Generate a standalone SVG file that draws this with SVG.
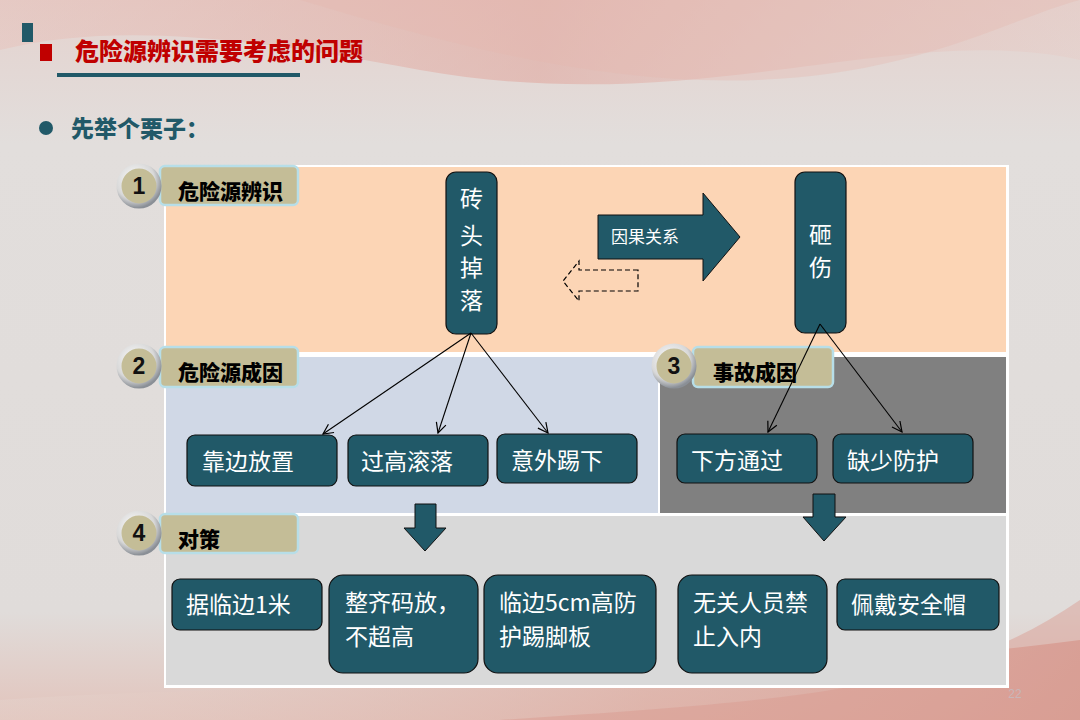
<svg xmlns="http://www.w3.org/2000/svg" width="1080" height="720" viewBox="0 0 1080 720">
<defs>
<linearGradient id="bg" x1="0" y1="0" x2="0" y2="1">
<stop offset="0" stop-color="#E4D2CE"/>
<stop offset="0.2" stop-color="#E2DEDC"/>
<stop offset="0.85" stop-color="#E0DCDA"/>
<stop offset="1" stop-color="#E2C4BC"/>
</linearGradient>
<linearGradient id="swTop" x1="0" y1="0" x2="1" y2="0">
<stop offset="0" stop-color="#E9B5AC" stop-opacity="0.3"/>
<stop offset="0.5" stop-color="#E0A59C" stop-opacity="0.55"/>
<stop offset="1" stop-color="#E8C8C2" stop-opacity="0.3"/>
</linearGradient>
<linearGradient id="swBot" x1="0" y1="0" x2="1" y2="0">
<stop offset="0" stop-color="#E6D8D2" stop-opacity="0.3"/>
<stop offset="0.6" stop-color="#DDA99E" stop-opacity="0.6"/>
<stop offset="1" stop-color="#D69A90" stop-opacity="0.8"/>
</linearGradient>
<radialGradient id="ring" cx="0.4" cy="0.35" r="0.7">
<stop offset="0" stop-color="#FFFFFF"/>
<stop offset="0.7" stop-color="#D8D8D8"/>
<stop offset="1" stop-color="#8A8F96"/>
</radialGradient>
<marker id="arr" viewBox="0 0 12 12" refX="11" refY="6" markerWidth="12" markerHeight="12" markerUnits="userSpaceOnUse" orient="auto">
<path d="M1,1 L11,6 L1,11" fill="none" stroke="#000" stroke-width="1.2"/>
</marker>
<style>
.tab{fill:#C4BD97;stroke:#B7DEE8;stroke-width:2.5}
.tabt{font-family:"Noto Sans CJK SC",sans-serif;font-weight:900;font-size:21px;fill:#000}
.num{font-family:"Liberation Sans",Arial,sans-serif;font-weight:bold;font-size:23px;fill:#111}
.badge{fill:#C4BD97;stroke:url(#ring);stroke-width:5}
.box{fill:#215968;stroke:#111;stroke-width:1.2}
.bt{font-family:"Noto Sans CJK SC",sans-serif;font-size:23px;fill:#FFFFFF}
.conn line{stroke:#000;stroke-width:1.1;marker-end:url(#arr)}
</style>
</defs>

<!-- background -->
<rect width="1080" height="720" fill="url(#bg)"/>
<path d="M0,0 L1080,0 L1080,60 C900,20 700,120 420,70 C260,40 120,20 0,50 Z" fill="url(#swTop)"/>
<path d="M300,0 C500,60 700,110 900,60 C980,40 1040,10 1080,0 Z" fill="#E4B8B0" opacity="0.35"/>
<path d="M0,700 C300,680 700,690 1080,640 L1080,720 L0,720 Z" fill="url(#swBot)"/>
<path d="M500,720 C800,700 950,690 1080,600 L1080,720 Z" fill="#D9988E" opacity="0.45"/>

<!-- title -->
<g id="title">
<rect x="22" y="23" width="11" height="19" fill="#215968"/>
<rect x="40" y="44" width="12" height="17" fill="#C00000"/>
<text x="75" y="60" font-family="Noto Sans CJK SC,sans-serif" font-weight="900" font-size="24" fill="#C00000">危险源辨识需要考虑的问题</text>
<rect x="57" y="73" width="243" height="4" fill="#215968"/>
</g>
<g id="bullet">
<circle cx="46" cy="128" r="7" fill="#215968"/>
<text x="71" y="137" font-family="Noto Sans CJK SC,sans-serif" font-weight="900" font-size="23" fill="#215968">先举个栗子：</text>
</g>

<!-- panel -->
<g id="panel">
<rect x="164" y="165" width="845" height="523" fill="#FFFFFF"/>
<rect x="166" y="167" width="840" height="185" fill="#FCD5B5"/>
<rect x="166" y="357" width="492" height="156" fill="#D0D8E6"/>
<rect x="660" y="357" width="346" height="156" fill="#808080"/>
<rect x="166" y="516" width="840" height="169" fill="#D9D9D9"/>
</g>

<!-- section labels -->
<g id="label1">
<rect class="tab" x="160" y="166" width="138" height="39" rx="5"/>
<circle class="badge" cx="139" cy="186" r="20"/>
<text class="num" x="139" y="194" text-anchor="middle">1</text>
<text class="tabt" x="178" y="199">危险源辨识</text>
</g>
<g id="label2">
<rect class="tab" x="160" y="347" width="138" height="40" rx="5"/>
<circle class="badge" cx="139" cy="366" r="20"/>
<text class="num" x="139" y="374" text-anchor="middle">2</text>
<text class="tabt" x="178" y="380">危险源成因</text>
</g>
<g id="label3">
<rect class="tab" x="693" y="347" width="140" height="40" rx="5"/>
<circle class="badge" cx="674" cy="366" r="20"/>
<text class="num" x="674" y="374" text-anchor="middle">3</text>
<text class="tabt" x="713" y="380">事故成因</text>
</g>
<g id="label4">
<rect class="tab" x="160" y="514" width="138" height="39" rx="5"/>
<circle class="badge" cx="139" cy="533" r="20"/>
<text class="num" x="139" y="541" text-anchor="middle">4</text>
<text class="tabt" x="178" y="547">对策</text>
</g>

<!-- top nodes -->
<g id="brick">
<rect class="box" x="446" y="172" width="51" height="162" rx="10"/>
<text class="bt" x="471.5" text-anchor="middle" font-size="24"><tspan x="471.5" y="207">砖</tspan><tspan x="471.5" y="244">头</tspan><tspan x="471.5" y="276">掉</tspan><tspan x="471.5" y="309">落</tspan></text>
</g>
<g id="injury">
<rect class="box" x="795" y="172" width="51" height="161" rx="10"/>
<text class="bt" x="820.5" text-anchor="middle" font-size="24"><tspan x="820.5" y="243">砸</tspan><tspan x="820.5" y="276">伤</tspan></text>
</g>
<g id="causal">
<path d="M598,215 L703,215 L703,193 L740,237 L703,281 L703,259 L598,259 Z" fill="#215968" stroke="#111" stroke-width="1"/>
<text x="611" y="243" font-family="Noto Sans CJK SC,sans-serif" font-size="17" fill="#FFFFFF">因果关系</text>
</g>
<g id="reverse">
<path d="M638,270 L579,270 L579,261 L563,281 L579,301 L579,291 L638,291 Z" fill="none" stroke="#000" stroke-width="1.2" stroke-dasharray="5,3"/>
</g>

<!-- row 2 -->
<g id="n-kaobian"><rect class="box" x="187" y="435" width="150" height="51" rx="8"/><text class="bt" x="202" y="470">靠边放置</text></g>
<g id="n-guogao"><rect class="box" x="348" y="435" width="140" height="51" rx="8"/><text class="bt" x="361" y="470">过高滚落</text></g>
<g id="n-yiwai"><rect class="box" x="497" y="434" width="140" height="49" rx="8"/><text class="bt" x="511" y="469">意外踢下</text></g>
<g id="n-xiafang"><rect class="box" x="677" y="434" width="140" height="49" rx="8"/><text class="bt" x="691" y="469">下方通过</text></g>
<g id="n-queshao"><rect class="box" x="833" y="434" width="140" height="49" rx="8"/><text class="bt" x="847" y="469">缺少防护</text></g>

<!-- down arrows -->
<g id="down1"><path d="M415,504 L436,504 L436,528 L446,528 L425,551 L404,528 L415,528 Z" fill="#215968" stroke="#111" stroke-width="1"/></g>
<g id="down2"><path d="M813,494 L835,494 L835,517 L846,517 L824,541 L803,517 L813,517 Z" fill="#215968" stroke="#111" stroke-width="1"/></g>

<!-- row 3 -->
<g id="n-julin"><rect class="box" x="172" y="579" width="150" height="51" rx="8"/><text class="bt" x="186" y="613" font-size="22">据临边1米</text></g>
<g id="n-zhengqi"><rect class="box" x="329" y="575" width="149" height="98" rx="14"/><text class="bt" font-size="22"><tspan x="345" y="611">整齐码放，</tspan><tspan x="345" y="645">不超高</tspan></text></g>
<g id="n-linbian"><rect class="box" x="484" y="575" width="172" height="98" rx="14"/><text class="bt" font-size="22"><tspan x="499" y="611">临边5cm高防</tspan><tspan x="499" y="645">护踢脚板</tspan></text></g>
<g id="n-wuguan"><rect class="box" x="678" y="575" width="149" height="98" rx="14"/><text class="bt" font-size="22"><tspan x="693" y="611">无关人员禁</tspan><tspan x="693" y="645">止入内</tspan></text></g>
<g id="n-peidai"><rect class="box" x="837" y="579" width="162" height="51" rx="8"/><text class="bt" x="851" y="613" font-size="22">佩戴安全帽</text></g>

<!-- connectors -->
<g id="connectors" class="conn">
<line x1="471" y1="333" x2="323" y2="434"/>
<line x1="471" y1="333" x2="438" y2="433"/>
<line x1="471" y1="333" x2="548" y2="433"/>
<line x1="820" y1="324" x2="768" y2="432"/>
<line x1="820" y1="324" x2="902" y2="432"/>
</g>

<text x="1015" y="698" font-family="Liberation Sans,Arial,sans-serif" font-size="12" fill="#C9B6B8" text-anchor="middle">22</text>
</svg>
